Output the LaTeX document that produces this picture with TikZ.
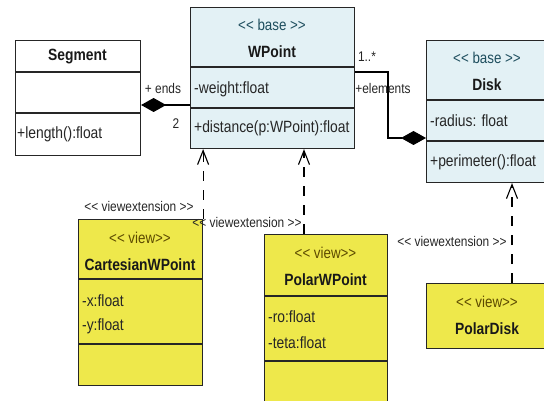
\documentclass[tikz,border=0pt]{standalone}
\usepackage{fontspec}
\setmainfont[FakeStretch=0.85]{Liberation Sans}
\usetikzlibrary{arrows.meta}
\definecolor{basefill}{HTML}{E3F1F5}
\definecolor{viewfill}{HTML}{EEE84B}
\definecolor{edge}{HTML}{262626}
\definecolor{basestereo}{HTML}{1E4E5E}
\definecolor{viewstereo}{HTML}{5C4A00}
% guillemet-free double angle brackets
\newcommand\ltlt{<\kern0pt<}
\newcommand\gtgt{>\kern0pt>}
\begin{document}
\begin{tikzpicture}[x=1pt,y=-1pt,
  classbox/.style={draw=edge, line width=1.1pt, inner sep=0pt, anchor=north west},
  basebox/.style={classbox, fill=basefill},
  viewbox/.style={classbox, fill=viewfill},
  plainbox/.style={classbox, fill=white},
  sep/.style={draw=edge, line width=1.1pt},
  member/.style={anchor=west, inner sep=0pt, font=\fontsize{16.3}{18}\selectfont, text=black!85},
  cname/.style={inner sep=0pt, font=\fontsize{16.3}{18}\selectfont\bfseries, text=black!90},
  stereo/.style={inner sep=0pt, font=\fontsize{15.7}{18}\selectfont},
  lbl/.style={inner sep=0pt, font=\fontsize{14}{16}\selectfont, text=black!85},
  assoc/.style={draw=black, line width=1.1pt},
  compstart/.style={assoc, {Diamond[length=25pt,width=14pt,fill=black]}-},
  compend/.style={assoc, -{Diamond[length=25pt,width=14pt,fill=black]}},
  viewext/.style={draw=black, line width=1.1pt, dash pattern=on 10pt off 9pt,
    -{Straight Barb[length=14pt,width=11pt,line width=1.1pt]}}
]
\useasboundingbox (0,0) rectangle (544,401);
\clip (0,0) rectangle (544,401);

% class outlines
\node[plainbox, minimum width=125pt, minimum height=115pt] (seg) at (15,40) {};
\node[basebox, minimum width=164pt, minimum height=141pt] (wp) at (190,7) {};
\node[basebox, minimum width=122pt, minimum height=142pt] (disk) at (426,40) {};
\node[viewbox, minimum width=124pt, minimum height=166pt] (cart) at (78,219) {};
\node[viewbox, minimum width=123pt, minimum height=180pt] (pwp) at (264,234) {};
\node[viewbox, minimum width=122pt, minimum height=65pt] (pdisk) at (426,283) {};

% compartment separators
\draw[sep] (seg.west |- 0,72) -- (seg.east |- 0,72);
\draw[sep] (seg.west |- 0,113) -- (seg.east |- 0,113);
\draw[sep] (wp.west |- 0,67) -- (wp.east |- 0,67);
\draw[sep] (wp.west |- 0,108) -- (wp.east |- 0,108);
\draw[sep] (disk.west |- 0,100) -- (disk.east |- 0,100);
\draw[sep] (disk.west |- 0,141) -- (disk.east |- 0,141);
\draw[sep] (cart.west |- 0,279) -- (cart.east |- 0,279);
\draw[sep] (cart.west |- 0,344) -- (cart.east |- 0,344);
\draw[sep] (pwp.west |- 0,296) -- (pwp.east |- 0,296);
\draw[sep] (pwp.west |- 0,361) -- (pwp.east |- 0,361);

% Segment
\node[cname] (segname) at (77.5,57) {Segment};
\node[member] (seglen) at (17,134) {+length():float};

% WPoint
\node[stereo, text=basestereo] (wpst) at (272,25) {\ltlt{} base \gtgt};
\node[cname] (wpname) at (272,52) {WPoint};
\node[member] (wpw) at (194,89) {-weight:float};
\node[member] (wpd) at (194,128) {+distance(p:WPoint):float};

% Disk
\node[stereo, text=basestereo] (dkst) at (487,58) {\ltlt{} base \gtgt};
\node[cname] (dkname) at (487,85) {Disk};
\node[member] (dkr) at (430,121) {-radius: float};
\node[member] (dkp) at (430,162) {+perimeter():float};

% CartesianWPoint
\node[stereo, text=viewstereo] (cast) at (140,238) {\ltlt{} view\gtgt};
\node[cname] (caname) at (140,265) {CartesianWPoint};
\node[member] (cax) at (82,301) {-x:float};
\node[member] (cay) at (82,326) {-y:float};

% PolarWPoint
\node[stereo, text=viewstereo] (pwst) at (325.5,253) {\ltlt{} view\gtgt};
\node[cname] (pwname) at (325.5,280) {PolarWPoint};
\node[member] (pwr) at (268,317) {-ro:float};
\node[member] (pwt) at (268,343) {-teta:float};

% PolarDisk
\node[stereo, text=viewstereo] (pdst) at (487,302) {\ltlt{} view\gtgt};
\node[cname] (pdname) at (487,329) {PolarDisk};

% compositions
\draw[compstart] (seg.east |- 0,105) -- (wp.west |- 0,105);
\node[lbl] (ends) at (163,88) {+ ends};
\node[lbl] (two) at (176,124) {2};

\coordinate (bendA) at (388,72);
\coordinate (bendB) at (388,138);
\draw[compend] (wp.east |- bendA) -- (bendA) -- (bendB) -- (disk.west |- bendB);
\node[lbl] (mult) at (367,57) {1..*};
\node[lbl] (elems) at (383,88) {+elements};

% view extensions
\draw[viewext] (cart.north east) -- (cart.north east |- wp.south);
\draw[viewext] (pwp.north -| 304,0) -- (wp.south -| 304,0);
\draw[viewext] (pdisk.north -| 512,0) -- (disk.south -| 512,0);
\node[lbl] (ve1) at (139,206) {\ltlt{} viewextension \gtgt};
\node[lbl] (ve2) at (247,222) {\ltlt{} viewextension \gtgt};
\node[lbl] (ve3) at (452,241) {\ltlt{} viewextension \gtgt};
\end{tikzpicture}
\end{document}
